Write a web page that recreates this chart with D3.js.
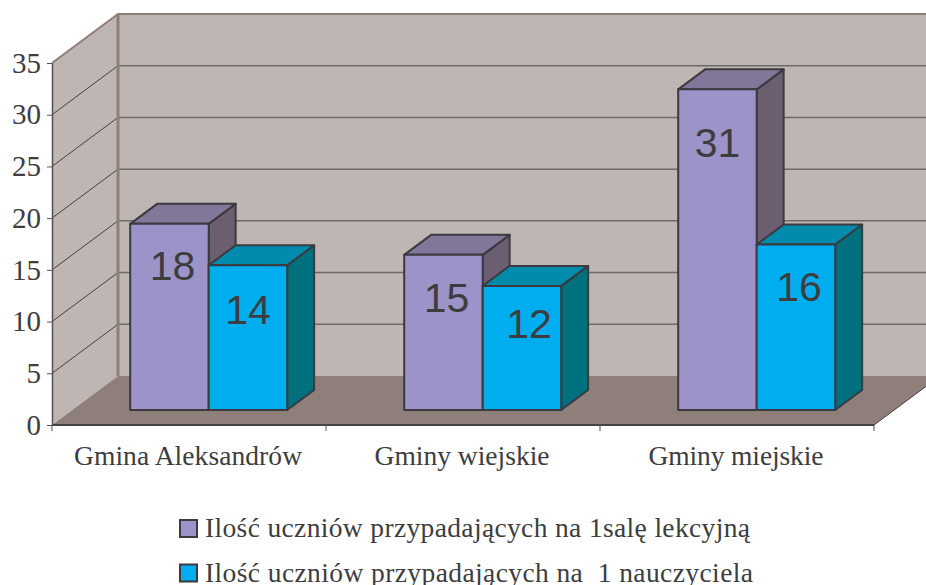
<!DOCTYPE html>
<html>
<head>
<meta charset="utf-8">
<title>Ilość uczniów</title>
<script src="https://d3js.org/d3.v7.min.js"></script>
<style>
  body { margin: 0; background: #fff; }
  svg { display: block; }
  text { white-space: pre; fill: #3d3d40; }
  .serif { font-family: "Liberation Serif", serif; font-size: 27.5px; }
  .tick text.serif { font-size: 29px; }
  .val { font-family: "Liberation Sans", sans-serif; font-size: 41px; text-anchor: middle; }
</style>
</head>
<body>
<div id="chart"></div>
<script>
var categories = ["Gmina Aleksandrów", "Gminy wiejskie", "Gminy miejskie"];
var seriesNames = ["Ilość uczniów przypadających na 1salę lekcyjną", "Ilość uczniów przypadających na  1 nauczyciela"];
var sala = [18, 15, 31];
var nauczyciel = [14, 12, 16];
var yTicks = [0, 5, 10, 15, 20, 25, 30, 35];

var width = 926, height = 585;
var frontColors = ["#9c94c8", "#00adef"],
    topColors = ["#837799", "#008aab"],
    sideColors = ["#6b5e70", "#00707f"];
var lineDark = "#3a3a3f";

var svg = d3.select("#chart").append("svg").attr("width", width).attr("height", height);

var x = d3.scaleBand().domain(categories).range([52, 874]);
var y = d3.scaleLinear().domain([0, 35]).range([425, 63]);

/* oblique offset for a depth measured in px going up the floor */
var slope = 66 / 49, wallDepth = 49;
function pt(px, py, d) { return [px + d * slope, py - d]; }
function poly(points, fill, stroke, sw) {
  return svg.append("polygon")
    .attr("points", points.map(function(p) { return p.join(","); }).join(" "))
    .attr("fill", fill).attr("stroke", stroke || "none").attr("stroke-width", sw || 0)
    .attr("stroke-linejoin", "round");
}

var x0 = x.range()[0], x1 = x.range()[1], yb = y(0), yt = y(35);

// walls and floor
poly([pt(x0, yb, 0), pt(x0, yt, 0), pt(x0, yt, wallDepth), pt(x0, yb, wallDepth)], "#bfb5b2");
poly([pt(x0, yb, wallDepth), pt(x0, yt, wallDepth), pt(x1, yt, wallDepth), pt(x1, yb, wallDepth)], "#bfb5b2");
poly([pt(x0, yb, 0), pt(x0, yb, wallDepth), pt(x1, yb, wallDepth), pt(x1, yb, 0)], "#8e7f7a");

// grid
yTicks.slice(1, -1).forEach(function(t) {
  var a = pt(x0, y(t), 0), b = pt(x0, y(t), wallDepth), c = pt(x1, y(t), wallDepth);
  svg.append("line").attr("x1", a[0]).attr("y1", a[1]).attr("x2", b[0]).attr("y2", b[1])
    .attr("stroke", "#45403f").attr("stroke-width", 1);
  svg.append("line").attr("x1", b[0]).attr("y1", b[1]).attr("x2", c[0]).attr("y2", c[1])
    .attr("stroke", "#6f6a6a").attr("stroke-width", 1.5);
});

// wall edges
var tl = pt(x0, yt, 0), tb = pt(x0, yt, wallDepth), bb = pt(x0, yb, wallDepth), tr = pt(x1, yt, wallDepth);
svg.append("path").attr("fill", "none").attr("stroke", "#8e7f7a").attr("stroke-width", 2)
  .attr("d", "M" + tl + "L" + tb + "L" + tr);
svg.append("path").attr("fill", "none").attr("stroke", "#8e7f7a").attr("stroke-width", 3)
  .attr("d", "M" + tb + "L" + bb);
var fr = pt(x1, yb, 0), frb = pt(x1, yb, wallDepth);
svg.append("line").attr("x1", fr[0]).attr("y1", fr[1]).attr("x2", frb[0]).attr("y2", frb[1])
  .attr("stroke", "#45403f").attr("stroke-width", 1);

// axes
var yAxis = svg.append("g").attr("transform", "translate(" + x0 + ",0)")
  .call(d3.axisLeft(y).tickValues(yTicks).tickSize(5).tickPadding(6).tickSizeOuter(0));
yAxis.selectAll("text").attr("class", "serif").attr("dy", "0.32em");
yAxis.selectAll("line").attr("stroke", "#55504f");
yAxis.select(".domain").attr("stroke", "#55504f").attr("stroke-width", 1.5);

svg.append("line").attr("x1", x0).attr("x2", x1).attr("y1", yb).attr("y2", yb)
  .attr("stroke", "#45434a").attr("stroke-width", 2);
svg.selectAll(".xtick").data(categories.concat([null])).enter().append("line")
  .attr("class", "xtick")
  .attr("x1", function(d, i) { return x0 + i * x.step(); })
  .attr("x2", function(d, i) { return x0 + i * x.step(); })
  .attr("y1", yb).attr("y2", yb + 6)
  .attr("stroke", "#55504f");

var catWidths = [228, 175, 175];
svg.selectAll(".cat").data(categories).enter().append("text")
  .attr("class", "serif cat")
  .attr("x", function(d) { return x(d) + x.bandwidth() / 2 - 1; })
  .attr("y", 465)
  .attr("text-anchor", "middle")
  .attr("textLength", function(d, i) { return catWidths[i]; })
  .attr("lengthAdjust", "spacing")
  .text(function(d) { return d; });

// bars
var barFront = 15, barDeep = 20;
var barW = d3.scaleBand().domain([0, 1]).range([-79, 78]);
/* small nudges for the hand placed value labels: [dx, baseline below bar top] */
var labelNudge = [[[3, 56], [0, 59]], [[3, 57], [7, 52]], [[0, 68], [3, 56]]];

categories.forEach(function(cat, ci) {
  [sala, nauczyciel].forEach(function(vals, si) {
    var cx = x(cat) + x.bandwidth() / 2;
    var l = cx + barW(si) + barFront * slope, r = l + barW.bandwidth();
    var base = yb - barFront, top = y(vals[ci]) - barFront;
    poly([[r, base], [r, top], pt(r, top, barDeep), pt(r, base, barDeep)], sideColors[si], lineDark, 2);
    poly([[l, top], [r, top], pt(r, top, barDeep), pt(l, top, barDeep)], topColors[si], lineDark, 2);
    poly([[l, base], [l, top], [r, top], [r, base]], frontColors[si], lineDark, 2);
  });
});
// labels last so they sit on top of everything
categories.forEach(function(cat, ci) {
  [sala, nauczyciel].forEach(function(vals, si) {
    var cx = x(cat) + x.bandwidth() / 2 + barW(si) + barFront * slope + barW.bandwidth() / 2;
    svg.append("text").attr("class", "val")
      .attr("x", cx + labelNudge[ci][si][0])
      .attr("y", y(vals[ci]) - barFront + labelNudge[ci][si][1])
      .text(vals[ci]);
  });
});

// legend
var legend = svg.selectAll(".lg").data(seriesNames).enter().append("g")
  .attr("class", "lg")
  .attr("transform", function(d, i) { return "translate(180," + (520 + i * 44.5) + ")"; });
legend.append("rect").attr("width", 17).attr("height", 17)
  .attr("fill", function(d, i) { return frontColors[i]; })
  .attr("stroke", lineDark).attr("stroke-width", 2);
legend.append("text").attr("class", "serif")
  .attr("x", 25).attr("y", 17)
  .attr("textLength", function(d, i) { return i ? 548 : 545; })
  .attr("lengthAdjust", "spacing")
  .text(function(d) { return d; });
</script>
</body>
</html>
